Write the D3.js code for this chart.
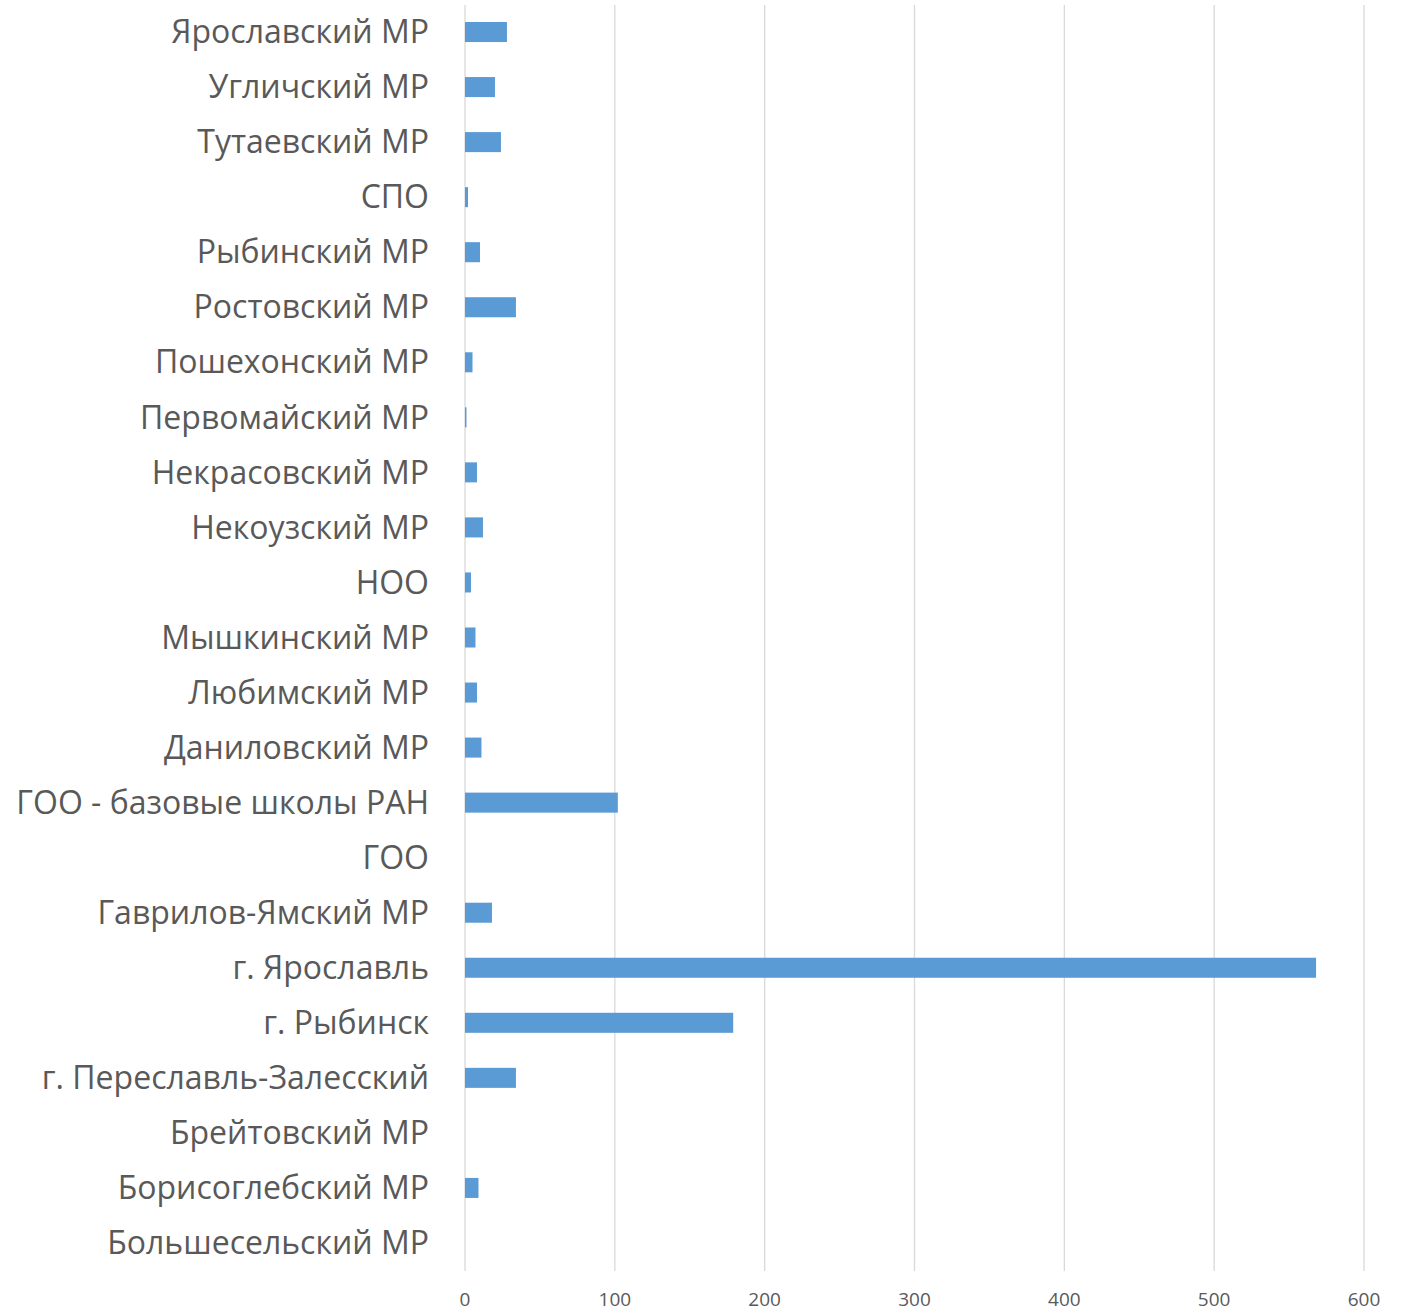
<!DOCTYPE html>
<html>
<head>
<meta charset="utf-8">
<script src="https://cdn.jsdelivr.net/npm/d3@7"></script>
<style>
  body { margin: 0; background: #fff; }
  text { font-family: "Open Sans", sans-serif; fill: #595959; }
</style>
</head>
<body>
<script>
// categories top to bottom, as in the picture
var categories = [
  "Ярославский МР", "Угличский МР", "Тутаевский МР", "СПО", "Рыбинский МР",
  "Ростовский МР", "Пошехонский МР", "Первомайский МР", "Некрасовский МР",
  "Некоузский МР", "НОО", "Мышкинский МР", "Любимский МР", "Даниловский МР",
  "ГОО - базовые школы РАН", "ГОО", "Гаврилов-Ямский МР", "г. Ярославль",
  "г. Рыбинск", "г. Переславль-Залесский", "Брейтовский МР",
  "Борисоглебский МР", "Большесельский МР"
];
var values = [28, 20, 24, 2, 10, 34, 5, 1, 8, 12, 4, 7, 8, 11, 102, 0, 18, 568, 179, 34, 0, 9, 0];
var ticks = [0, 100, 200, 300, 400, 500, 600];

var width = 1404;
var height = 1313;

var svg = d3.select("body")
  .append("svg")
  .attr("width", width)
  .attr("height", height);

var x = d3.scaleLinear().domain([0, 600]).range([465, 1364]);
var y = d3.scaleBand().domain(categories).range([4.5, 1270.5]).paddingInner(0.636).paddingOuter(0.318);

// gridlines
svg.selectAll("line.grid")
  .data(ticks)
  .enter()
  .append("line")
  .attr("class", "grid")
  .attr("x1", function (d) { return x(d); })
  .attr("x2", function (d) { return x(d); })
  .attr("y1", 5)
  .attr("y2", 1271)
  .attr("stroke", "#d9d9d9")
  .attr("stroke-width", 1.3);

// bars
svg.selectAll("rect.bar")
  .data(values)
  .enter()
  .append("rect")
  .attr("class", "bar")
  .attr("x", x(0))
  .attr("y", function (d, i) { return y(categories[i]); })
  .attr("width", function (d) { return x(d) - x(0); })
  .attr("height", y.bandwidth())
  .attr("fill", "#5b9bd5");

// category labels
svg.selectAll("text.cat")
  .data(categories)
  .enter()
  .append("text")
  .attr("class", "cat")
  .attr("x", 429)
  .attr("y", function (d) { return y(d) + y.bandwidth() / 2; })
  .attr("dy", "0.35em")
  .attr("text-anchor", "end")
  .style("font-size", "32px")
  .text(function (d) { return d; });

// tick labels
svg.selectAll("text.tick")
  .data(ticks)
  .enter()
  .append("text")
  .attr("class", "tick")
  .attr("x", function (d) { return x(d); })
  .attr("y", 1299)
  .attr("dy", "0.35em")
  .attr("text-anchor", "middle")
  .style("font-size", "19px")
  .text(function (d) { return d; });
</script>
</body>
</html>
